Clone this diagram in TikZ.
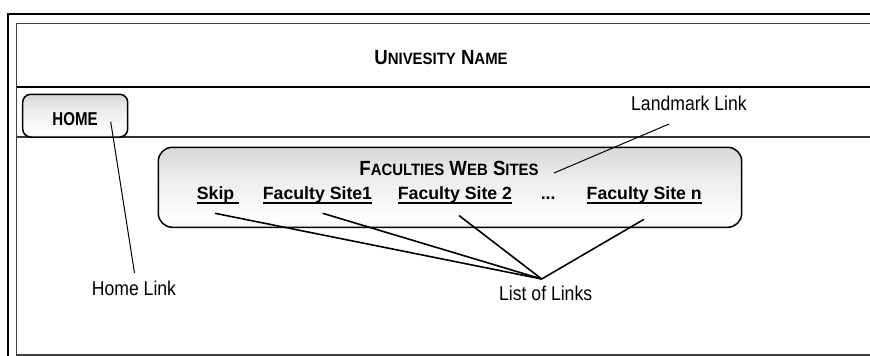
\documentclass[tikz,border=0pt]{standalone}
\usepackage{fontspec}
\setmainfont{Liberation Sans}
\newfontfamily\labelfont{Liberation Sans}[FakeStretch=0.88]
\newfontfamily\homefont{Liberation Sans}[FakeStretch=0.81]
\newfontfamily\headfont{Liberation Sans}[FakeStretch=0.91]
% hand-made small capitals for the headings
\newcommand\tcap[1]{{\fontsize{20.5}{22}\selectfont #1}}
\newcommand\tsc[1]{{\fontsize{16.4}{18}\selectfont #1}}
% underlined hyperlink text
\newcommand\ulink[1]{\setbox0\hbox{#1}\rlap{\rule[-4.3pt]{\wd0}{1.2pt}}\box0}
% soft button gradient: grey at the edges, white just below the middle
\pgfdeclareverticalshading{panelshade}{100bp}{color(0bp)=(black!32); color(30bp)=(white); color(55bp)=(black!7); color(100bp)=(black!26)}
\begin{document}
\begin{tikzpicture}[x=1pt,y=-1pt,
  panel/.style={draw=black, line width=1.5pt, rounded corners=#1, shading=panelshade, inner sep=0pt},
  heading/.style={anchor=base, inner sep=0pt, font=\headfont\bfseries\fontsize{20.5}{22}\selectfont},
  linktext/.style={anchor=base west, inner sep=0pt, font=\bfseries\fontsize{17.7}{20}\selectfont},
  callout/.style={anchor=base west, inner sep=0pt, font=\labelfont\fontsize{20}{22}\selectfont},
  fineline/.style={line width=1pt},
  fanline/.style={line width=1.6pt}]
\useasboundingbox (0,0) rectangle (870,356);
\clip (0,0) rectangle (870,356);

% page frame, header bar and navigation bar
\draw[line width=2.2pt] (8,14) rectangle (900,400);
\draw[line width=1.3pt, black!75] (16.7,23.3) rectangle (890,355);
\draw[line width=1.8pt] (16.7,86.7) -- (890,86.7);
\draw[line width=1.3pt, black!80] (16.7,137) -- (890,137);

% header
\node[heading] (uname) at (441,64.3) {\tcap{U}\tsc{NIVESITY} \tcap{N}\tsc{AME}};

% home button
\node[panel=8, minimum width=105pt, minimum height=42.7pt] (homebtn) at (75.2,115.65) {};
\node[anchor=base, inner sep=0pt, font=\homefont\bfseries\fontsize{18.6}{20}\selectfont] (hometxt) at (75,125) {HOME};

% faculties panel
\node[panel=14, minimum width=583.4pt, minimum height=80pt] (facbox) at (450,187.3) {};
\node[heading] (factitle) at (449,175) {\tcap{F}\tsc{ACULTIES} \tcap{W}\tsc{EB} \tcap{S}\tsc{ITES}};
\node[linktext] (skip)  at (196.7,199.3) {\ulink{Skip\ }};
\node[linktext] (site1) at (262.7,199.3) {\ulink{Faculty Site1}};
\node[linktext] (site2) at (397.7,199.3) {\ulink{Faculty Site 2}};
\node[linktext] (dots)  at (540.6,199.3) {...};
\node[linktext] (siten) at (586.5,199.3) {\ulink{Faculty Site n}};

% callout labels
\node[callout] (landmark)  at (631,110)   {Landmark Link};
\node[callout] (homelink)  at (91.7,295)  {Home Link};
\node[callout] (listlinks) at (499,300)   {List of Links};

% callout line ends
\coordinate (hl-start) at (110.7,121.7);
\coordinate (hl-end)   at (134.5,273);
\coordinate (lm-start) at (554,173);
\coordinate (lm-end)   at (669,124);
\coordinate (apex)     at (541.7,279);
\coordinate (p-skip)   at (215,213.3);
\coordinate (p-site1)  at (322.7,213.3);
\coordinate (p-site2)  at (459,215.5);
\coordinate (p-siten)  at (644,219.3);

\draw[fineline] (hl-start) -- (hl-end);
\draw[fineline] (lm-start) -- (lm-end);
\draw[fanline] (p-skip) -- (apex);
\draw[fanline] (p-site1) -- (apex);
\draw[fanline] (p-site2) -- (apex);
\draw[fanline] (p-siten) -- (apex);
\end{tikzpicture}
\end{document}
